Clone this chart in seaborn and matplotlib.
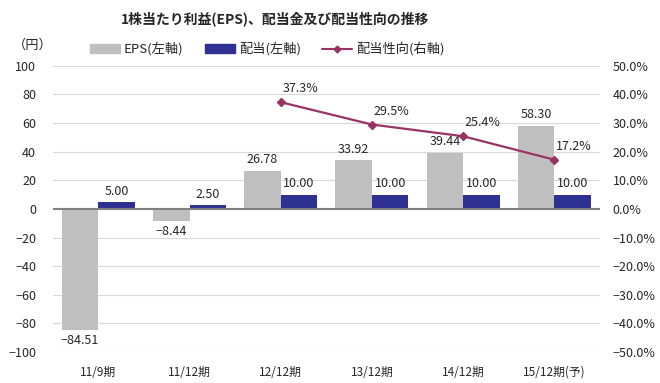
import matplotlib
matplotlib.use("Agg")
import matplotlib.pyplot as plt
import seaborn as sns
import pandas as pd
import numpy as np
from matplotlib.patches import Patch
from matplotlib.lines import Line2D

periods = ["11/9期", "11/12期", "12/12期", "13/12期", "14/12期", "15/12期(予)"]
eps = [-84.51, -8.44, 26.78, 33.92, 39.44, 58.30]
dividend = [5.00, 2.50, 10.00, 10.00, 10.00, 10.00]
payout_periods = ["12/12期", "13/12期", "14/12期", "15/12期(予)"]
payout = [37.3, 29.5, 25.4, 17.2]

sns.set_theme(style="white")
plt.rcParams['font.family'] = ['Noto Sans CJK JP', 'DejaVu Sans']
plt.rcParams['axes.unicode_minus'] = True

c_eps = "#BFBFBF"
c_div = "#2E3192"
c_line = "#993366"

df = pd.DataFrame({
    "period": periods * 2,
    "value": eps + dividend,
    "series": ["EPS"] * len(periods) + ["配当"] * len(periods),
})

fig = plt.figure(figsize=(6.6, 3.83), dpi=100)
ax = fig.add_axes([0.08, 0.081, 0.829, 0.747])

sns.barplot(data=df, x="period", y="value", hue="series", order=periods,
            palette={"EPS": c_eps, "配当": c_div}, width=0.8, ax=ax,
            saturation=1, legend=False, linewidth=0, edgecolor="none")

ax.set_ylim(-100, 100)
ax.set_yticks(np.arange(-100, 101, 20))
ax.set_xlim(-0.5, len(periods) - 0.5)
ax.grid(axis="y", color="#D9D9D9", linewidth=0.8)
ax.set_axisbelow(True)
for s in ax.spines.values():
    s.set_visible(False)
ax.axhline(0, color="#808080", linewidth=1.5, zorder=3)
ax.set_xlabel("")
ax.set_ylabel("")
ax.tick_params(axis="y", labelsize=9, length=0, pad=12)
ax.tick_params(axis="x", labelsize=8.5, length=0, pad=10)

for cont in ax.containers:
    ax.bar_label(cont, fontsize=9, padding=3,
                 labels=[f"{v:.2f}".replace("-", "−") for v in cont.datavalues])

ax2 = ax.twinx()
ax2.set_position(ax.get_position())
xpos = [periods.index(p) for p in payout_periods]
ax2.plot(xpos, payout, color=c_line, marker="D", markersize=4.5, linewidth=1.6)
ax2.set_ylim(-50, 50)
ax2.set_yticks(np.arange(-50, 51, 10))
ax2.set_yticklabels([f"{v:.1f}%".replace("-", "−") for v in np.arange(-50, 51, 10)])
ax2.tick_params(axis="y", labelsize=9, length=0, pad=9)
for s in ax2.spines.values():
    s.set_visible(False)
ax2.grid(False)
for x, v in zip(xpos, payout):
    ax2.annotate(f"{v:.1f}%", (x, v), xytext=(1, 5), textcoords="offset points",
                 fontsize=9, ha="left", va="bottom")

fig.text(0.417, 0.952, "1株当たり利益(EPS)、配当金及び配当性向の推移", ha="center",
         va="center", fontsize=10, fontweight="bold")
fig.text(0.02, 0.882, "（円）", ha="left", va="center", fontsize=9.5)

handles = [Patch(color=c_eps, label="EPS(左軸)"),
           Patch(color=c_div, label="配当(左軸)"),
           Line2D([], [], color=c_line, marker="D", markersize=3.5, linewidth=1.5,
                  label="配当性向(右軸)")]
fig.legend(handles=handles, loc="center", bbox_to_anchor=(0.405, 0.872), ncol=3,
           frameon=False, fontsize=9.5, handlelength=2.3, handleheight=0.6,
           columnspacing=1.6, handletextpad=0.3)

fig.savefig("out.png", dpi=100)
